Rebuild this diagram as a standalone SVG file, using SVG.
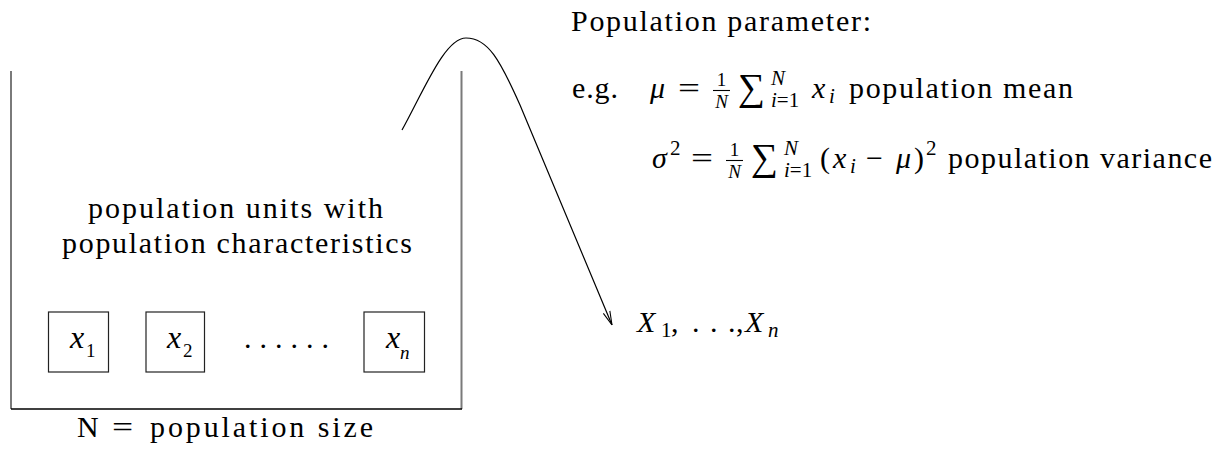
<svg xmlns="http://www.w3.org/2000/svg" width="1231" height="455" viewBox="0 0 1231 455" font-family="Liberation Serif, Times New Roman, serif">
<defs>
<style>
text{font-family:"Liberation Serif","Times New Roman",serif;fill:#000}
.t{font-size:30px}
.m{font-size:30px}
.it{font-style:italic}
.s{font-size:21px}
.f{font-size:19px}
.op{font-size:38px}
.box{fill:none;stroke:#222;stroke-width:1.2}
.wall{stroke:#7a7a7a;stroke-width:2;fill:none}
.bar{stroke:#000;stroke-width:1.1}
.conn{fill:none;stroke:#000;stroke-width:1.2}
</style>
<marker id="arr" viewBox="0 0 14 10" refX="14" refY="5" markerWidth="14" markerHeight="10" markerUnits="userSpaceOnUse" orient="auto">
<path d="M0,1.5 L14,5 L0,8.5" fill="none" stroke="#000" stroke-width="1.1"/>
</marker>
</defs>
<rect width="1231" height="455" fill="#fff"/>

<g id="population">
<line class="wall" x1="11" y1="71" x2="11" y2="409"/>
<line class="wall" x1="461.5" y1="71" x2="461.5" y2="409"/>
<line x1="11" y1="409" x2="462" y2="409" stroke="#000" stroke-width="1.6"/>
<text class="t" x="88" y="218" textLength="295" lengthAdjust="spacing">population units with</text>
<text class="t" x="62" y="253" textLength="350" lengthAdjust="spacing">population characteristics</text>
</g>

<g id="unit-x1">
<rect class="box" x="48.5" y="312" width="60" height="60"/>
<text x="70" y="348" font-size="32" class="it">x</text>
<text x="86" y="357" font-size="19">1</text>
</g>
<g id="unit-x2">
<rect class="box" x="146" y="312" width="58.5" height="60"/>
<text x="167" y="348" font-size="32" class="it">x</text>
<text x="183" y="357" font-size="19">2</text>
</g>
<g id="unit-dots">
<text class="t" x="244" y="348" letter-spacing="8">......</text>
</g>
<g id="unit-xn">
<rect class="box" x="364" y="312" width="60.5" height="60"/>
<text x="386" y="348" font-size="32" class="it">x</text>
<text x="400" y="359" font-size="19" class="it">n</text>
</g>

<g id="size-label">
<text class="t" x="77" y="437">N</text>
<text class="t" x="112" y="437" transform="translate(112 0) scale(1.25 1) translate(-112 0)">=</text>
<text class="t" x="150" y="437" textLength="223" lengthAdjust="spacing">population size</text>
</g>

<g id="parameter">
<text class="m" x="571" y="31" textLength="300" lengthAdjust="spacing">Population parameter:</text>
<text class="m" x="572" y="98" textLength="46" lengthAdjust="spacing">e.g.</text>
<text class="m it" x="650" y="98">μ</text>
<text class="m" x="678" y="98" transform="translate(678 0) scale(1.3 1) translate(-678 0)">=</text>
<text class="f" x="721.5" y="85.5" text-anchor="middle">1</text>
<line class="bar" x1="713" y1="90.5" x2="730" y2="90.5"/>
<text class="f it" x="721.5" y="108" text-anchor="middle">N</text>
<text class="op" x="738" y="100">∑</text>
<text class="s it" x="771" y="85">N</text>
<text class="s" x="771" y="107"><tspan class="it">i</tspan>=1</text>
<text class="m it" x="812" y="98">x</text>
<text class="s it" x="829" y="103">i</text>
<text class="m" x="849" y="98" textLength="224" lengthAdjust="spacing">population mean</text>

<text class="m it" x="652" y="168">σ</text>
<text class="s" x="670" y="155">2</text>
<text class="m" x="691" y="168" transform="translate(691 0) scale(1.3 1) translate(-691 0)">=</text>
<text class="f" x="734.5" y="155.5" text-anchor="middle">1</text>
<line class="bar" x1="726" y1="160.5" x2="743" y2="160.5"/>
<text class="f it" x="734.5" y="178" text-anchor="middle">N</text>
<text class="op" x="751" y="170">∑</text>
<text class="s it" x="784" y="155">N</text>
<text class="s" x="784" y="177"><tspan class="it">i</tspan>=1</text>
<text class="m" x="820" y="168">(</text>
<text class="m it" x="833" y="168">x</text>
<text class="s it" x="850" y="173">i</text>
<text class="m" x="866" y="168">−</text>
<text class="m it" x="896" y="168">μ</text>
<text class="m" x="914" y="168">)</text>
<text class="s" x="926" y="155">2</text>
<text class="m" x="948" y="168" textLength="264" lengthAdjust="spacing">population variance</text>
</g>

<g id="sample">
<text class="m it" x="637" y="332">X</text>
<text class="s" x="661" y="337">1</text>
<text class="m" x="671" y="332">,</text>
<text class="m" x="692" y="332">.</text>
<text class="m" x="710" y="332">.</text>
<text class="m" x="728" y="332">.</text>
<text class="m" x="736" y="332">,</text>
<text class="m it" x="745" y="332">X</text>
<text class="s it" x="768" y="337">n</text>
</g>

<g id="connectors">
<path class="conn" d="M402,130 C425,88 445,38 466,38 C488,38 500,60 520,105 L612,325" marker-end="url(#arr)"/>
</g>
</svg>
